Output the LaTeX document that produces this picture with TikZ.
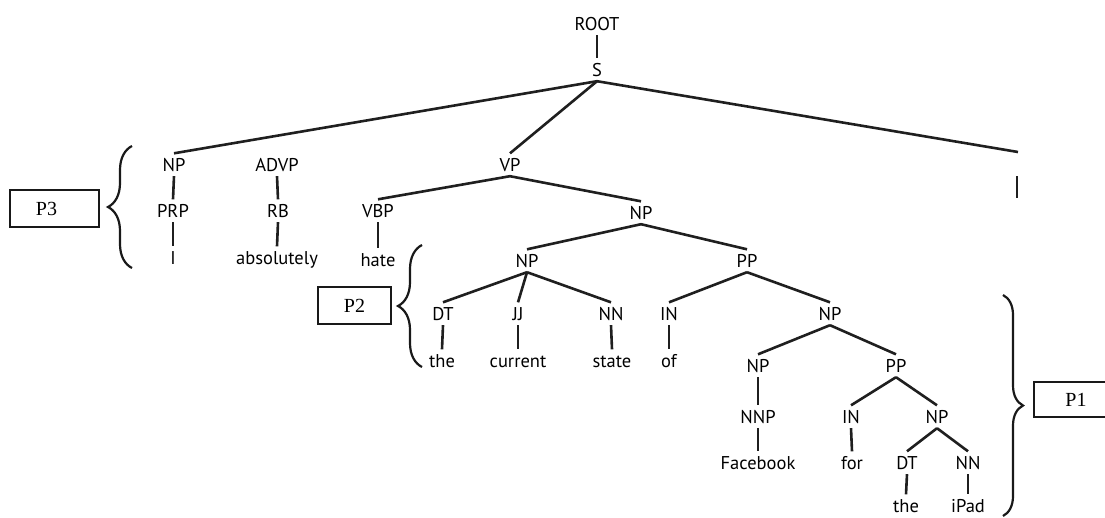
\documentclass[tikz,border=0pt]{standalone}
\usepackage{fontspec}
\setmainfont{PT Sans}
\newfontfamily\boxfont{Liberation Serif}
\usetikzlibrary{decorations.pathreplacing}
\begin{document}
\begin{tikzpicture}[x=1pt,y=-1pt,
  lab/.style={anchor=base, font=\fontsize{18.5}{20}\selectfont, text height=12.5pt, text depth=0pt, inner xsep=1pt, inner ysep=5pt},
  edge/.style={line width=2.6pt, draw=black!88},
  pbrace/.style={decorate, line width=2.2pt, draw=black!90},
  pbox/.style={draw=black!90, line width=1.8pt, font=\boxfont\fontsize{20}{22}\selectfont, inner sep=0pt}]
\useasboundingbox (0,0) rectangle (1105,517);
% tree nodes
\node[lab] (root) at (597,30) {ROOT};
\node[lab] (s) at (597,76) {S};
\node[lab] (np1) at (174,171) {NP};
\node[lab] (advp) at (277,171) {ADVP};
\node[lab] (vp) at (510,171) {VP};
\coordinate (pu1) at (1018,152);
\coordinate (pu2) at (1017,176);
\coordinate (pu3) at (1017,198);
\node[lab] (prp) at (173,217) {PRP};
\node[lab] (rb) at (278,217) {RB};
\node[lab] (vbp) at (378,217) {VBP};
\node[lab] (np2) at (641,219) {NP};
\node[lab] (wi) at (173,264) {I};
\node[lab] (wabs) at (277,264) {absolutely};
\node[lab] (whate) at (378,266) {hate};
\node[lab] (np3) at (527,267) {NP};
\node[lab] (pp1) at (747,267) {PP};
\node[lab] (dt1) at (443,320) {DT};
\node[lab] (jj) at (518,320) {JJ};
\node[lab] (nn1) at (611,320) {NN};
\node[lab] (in1) at (669,320) {IN};
\node[lab] (np4) at (830,320) {NP};
\node[lab] (wthe1) at (442,367) {the};
\node[lab] (wcur) at (518,367) {current};
\node[lab] (wstate) at (612,367) {state};
\node[lab] (wof) at (669,367) {of};
\node[lab] (np5) at (758,372) {NP};
\node[lab] (pp2) at (896,372) {PP};
\node[lab] (nnp) at (758,423) {NNP};
\node[lab] (in2) at (851,423) {IN};
\node[lab] (np6) at (937,423) {NP};
\node[lab] (wfb) at (758,469) {Facebook};
\node[lab] (wfor) at (852,469) {for};
\node[lab] (dt2) at (907,469) {DT};
\node[lab] (nn2) at (968,469) {NN};
\node[lab] (wthe2) at (906,512) {the};
\node[lab] (wipad) at (968,512) {iPad};
% edges
\draw[edge] (root.south) -- (s.north);
\draw[edge] (s.south) -- (np1.north);
\draw[edge] (s.south) -- (vp.north);
\draw[edge] (s.south) -- (pu1);
\draw[edge] (pu2) -- (pu3);
\draw[edge] (np1.south) -- (prp.north);
\draw[edge] (prp.south) -- (wi.north);
\draw[edge] (advp.south) -- (rb.north);
\draw[edge] (rb.south) -- (wabs.north);
\draw[edge] (vp.south) -- (vbp.north);
\draw[edge] (vp.south) -- (np2.north);
\draw[edge] (vbp.south) -- (whate.north);
\draw[edge] (np2.south) -- (np3.north);
\draw[edge] (np2.south) -- (pp1.north);
\draw[edge] (np3.south) -- (dt1.north);
\draw[edge] (np3.south) -- (jj.north);
\draw[edge] (np3.south) -- (nn1.north);
\draw[edge] (dt1.south) -- (wthe1.north);
\draw[edge] (jj.south) -- (wcur.north);
\draw[edge] (nn1.south) -- (wstate.north);
\draw[edge] (pp1.south) -- (in1.north);
\draw[edge] (pp1.south) -- (np4.north);
\draw[edge] (in1.south) -- (wof.north);
\draw[edge] (np4.south) -- (np5.north);
\draw[edge] (np4.south) -- (pp2.north);
\draw[edge] (np5.south) -- (nnp.north);
\draw[edge] (nnp.south) -- (wfb.north);
\draw[edge] (pp2.south) -- (in2.north);
\draw[edge] (pp2.south) -- (np6.north);
\draw[edge] (in2.south) -- (wfor.north);
\draw[edge] (np6.south) -- (dt2.north);
\draw[edge] (np6.south) -- (nn2.north);
\draw[edge] (dt2.south) -- (wthe2.north);
\draw[edge] (nn2.south) -- (wipad.north);
% braces
\coordinate (b3a) at (132,268);
\coordinate (b3b) at (132,146);
\coordinate (b2a) at (422,367);
\coordinate (b2b) at (422,245);
\coordinate (b1a) at (1003,295);
\coordinate (b1b) at (1003,516);
\draw[pbrace, decoration={brace, amplitude=24pt}] (b3a) -- (b3b);
\draw[pbrace, decoration={brace, amplitude=24pt}] (b2a) -- (b2b);
\draw[pbrace, decoration={brace, amplitude=20pt}] (b1a) -- (b1b);
% boxes
\node[pbox, minimum width=89pt, minimum height=37pt] (p3) at (54.5,208.5) {\hspace*{-16pt}P3};
\node[pbox, minimum width=73pt, minimum height=37pt] (p2) at (354.5,305.5) {P2};
\node[pbox, minimum width=74pt, minimum height=35pt] (p1) at (1071,399.5) {\hspace*{10pt}P1};
\end{tikzpicture}
\end{document}
